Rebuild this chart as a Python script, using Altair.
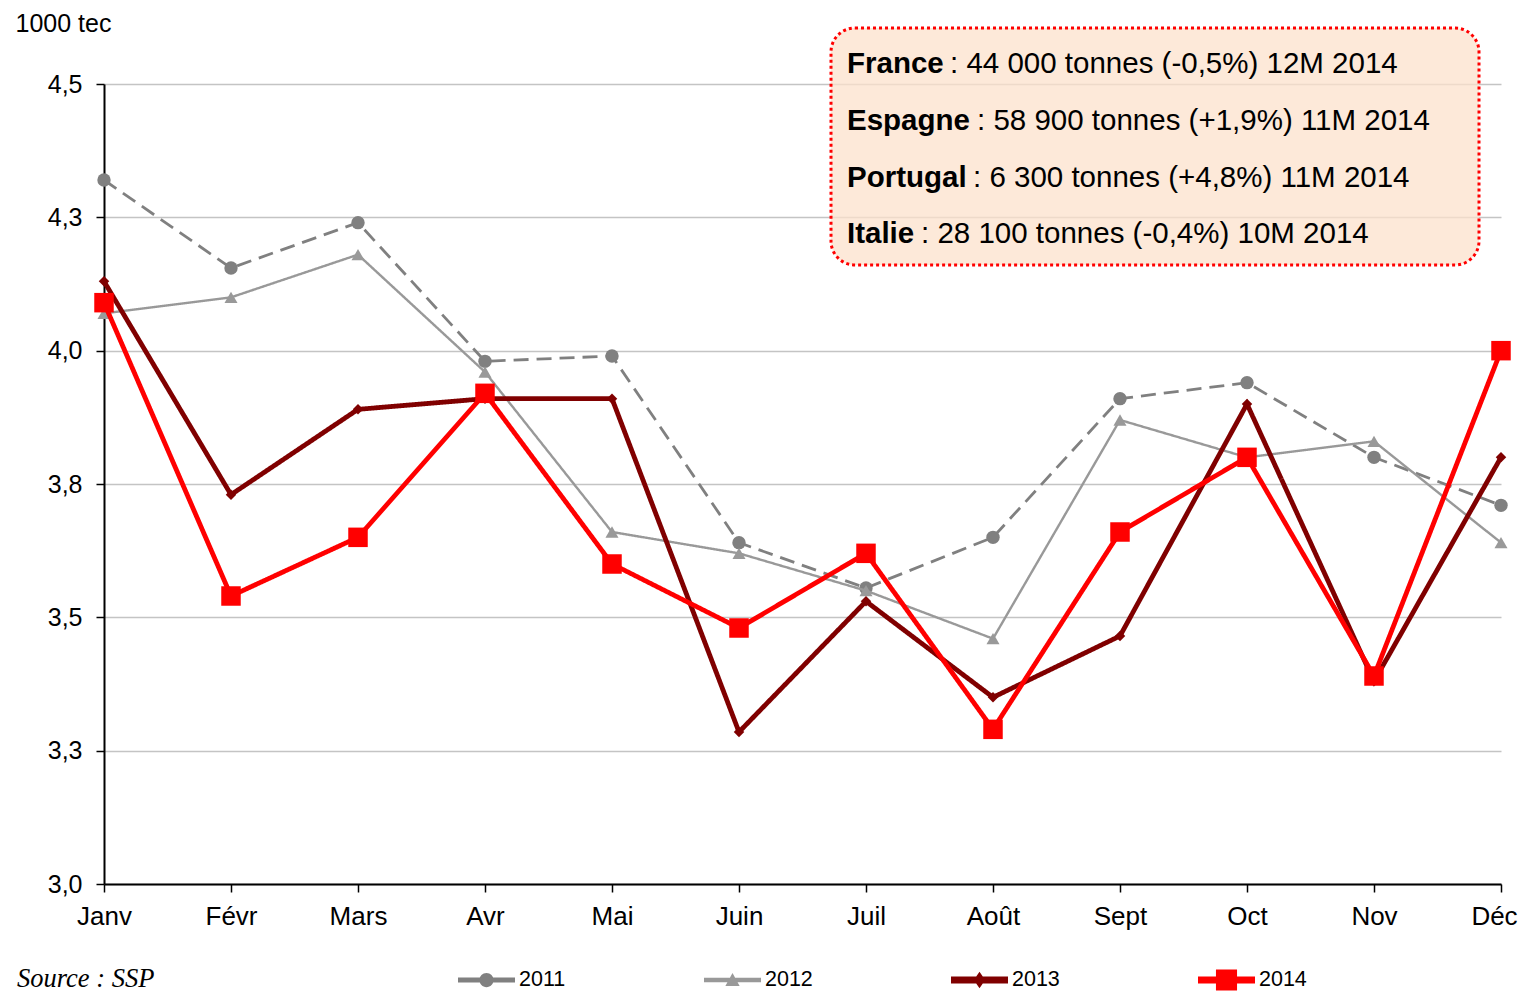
import altair as alt
import pandas as pd

months = ["Janv", "Févr", "Mars", "Avr", "Mai", "Juin", "Juil", "Août", "Sept", "Oct", "Nov", "Déc"]
years = ["2011", "2012", "2013", "2014"]
v2011 = [4.32, 4.155, 4.24, 3.98, 3.99, 3.64, 3.555, 3.65, 3.91, 3.94, 3.80, 3.71]
v2012 = [4.07, 4.10, 4.18, 3.96, 3.66, 3.62, 3.55, 3.46, 3.87, 3.80, 3.83, 3.64]
v2013 = [4.13, 3.73, 3.89, 3.91, 3.91, 3.285, 3.53, 3.35, 3.465, 3.90, 3.38, 3.80]
v2014 = [4.09, 3.54, 3.65, 3.92, 3.60, 3.48, 3.62, 3.29, 3.66, 3.80, 3.39, 4.00]
y_ticks = [3.0, 3.25, 3.5, 3.75, 4.0, 4.25, 4.5]

names = ["France", "Espagne", "Portugal", "Italie"]
details = [": 44 000 tonnes (-0,5%) 12M 2014",
           ": 58 900 tonnes (+1,9%) 11M 2014",
           ": 6 300 tonnes (+4,8%) 11M 2014",
           ": 28 100 tonnes (-0,4%) 10M 2014"]

FONT = "Liberation Sans"
series = {"2011": v2011, "2012": v2012, "2013": v2013, "2014": v2014}
colors = {"2011": "#808080", "2012": "#999999", "2013": "#800000", "2014": "#ff0000"}
widths = {"2011": 2.8, "2012": 2.4, "2013": 4.8, "2014": 4.8}
dashes = {"2011": [15, 8], "2012": [1, 0], "2013": [1, 0], "2014": [1, 0]}
shapes = {"2011": "circle", "2012": "triangle-up", "2013": "diamond", "2014": "square"}
sizes = {"2011": 180, "2012": 170, "2013": 110, "2014": 380}

x_enc = alt.X("month:O", sort=months, scale=alt.Scale(type="point", padding=0),
              axis=alt.Axis(title=None, labelFont=FONT, labelFontSize=26, labelColor="black",
                            labelAngle=0, domainColor="black", domainWidth=2, tickColor="black",
                            tickWidth=1.5, tickSize=8, labelPadding=11, grid=False,
                            labelOffset={"condition": {"test": "datum.value == 'Déc'", "value": -7},
                                         "value": 0}))
y_enc = alt.Y("value:Q", scale=alt.Scale(domain=[3.0, 4.5], nice=False, zero=False),
              axis=alt.Axis(values=y_ticks, labelExpr="replace(format(datum.value, '.1f'), '.', ',')",
                            labelFont=FONT, labelFontSize=25, labelColor="black", labelPadding=14,
                            domainColor="black", domainWidth=2, tickColor="black", tickWidth=1.5,
                            tickSize=8, grid=True, gridColor="#c4c4c4", gridWidth=1.5,
                            title="1000 tec", titleAngle=0, titleX=-89, titleY=-61,
                            titleAlign="left", titleBaseline="middle", titleFont=FONT,
                            titleFontSize=25, titleFontWeight="normal", titleColor="black"))

layers = []

# annotation box (behind lines)
one = pd.DataFrame({"k": [0]})
box = alt.Chart(one).mark_rect(
    fill="#fce2cc", fillOpacity=0.75, stroke="#ff0000", strokeWidth=3,
    strokeDash=[3, 3], cornerRadius=24
).encode(x=alt.value(727), x2=alt.value(1375), y=alt.value(-56), y2=alt.value(181))
layers.append(box)

for yr in years:
    df = pd.DataFrame({"month": months, "value": series[yr]})
    ln = alt.Chart(df).mark_line(color=colors[yr], strokeWidth=widths[yr],
                                 strokeDash=dashes[yr]).encode(x=x_enc, y=y_enc)
    pt = alt.Chart(df).mark_point(filled=True, opacity=1, color=colors[yr], shape=shapes[yr],
                                  size=sizes[yr]).encode(x=x_enc, y=y_enc)
    layers += [ln, pt]

# annotation text
row_y = [-20, 37, 94, 150]
detail_x = [846, 873, 869, 817]
for i in range(4):
    layers.append(alt.Chart(one).mark_text(
        text=names[i], font=FONT, fontSize=29.5, fontWeight="bold", align="left",
        baseline="middle", color="black").encode(x=alt.value(743), y=alt.value(row_y[i])))
    layers.append(alt.Chart(one).mark_text(
        text=details[i], font=FONT, fontSize=29.5, align="left",
        baseline="middle", color="black").encode(x=alt.value(detail_x[i]), y=alt.value(row_y[i])))

# source
layers.append(alt.Chart(one).mark_text(
    text="Source : SSP", font="Liberation Serif", fontStyle="italic", fontSize=26.5,
    align="left", baseline="alphabetic", color="black").encode(x=alt.value(-87), y=alt.value(903)))

# legend (line + marker symbols)
def line_rect(h):
    return f"M-1,-{h}H1V{h}H-1Z"

legend_paths = [
    line_rect(0.09) + "M0.25,0A0.25,0.25 0 1,1 -0.25,0A0.25,0.25 0 1,1 0.25,0Z",
    line_rect(0.075) + "M0,-0.25L0.25,0.21L-0.25,0.21Z",
    line_rect(0.12) + "M0,-0.29L0.2,0L0,0.29L-0.2,0Z",
    line_rect(0.12) + "M-0.37,-0.37H0.37V0.37H-0.37Z",
]
leg = alt.Legend(title=None, orient="none", legendX=354, legendY=867, direction="horizontal",
                 symbolSize=3249, symbolStrokeWidth=0, labelFont=FONT, labelFontSize=21.5,
                 labelColor="black", labelOffset=4, columnPadding=138, padding=0)
legend_df = pd.DataFrame({"year": years})
legend_layer = alt.Chart(legend_df).transform_filter("datum.year == 'none'").mark_point(
    filled=True, opacity=1).encode(
    shape=alt.Shape("year:N", scale=alt.Scale(domain=years, range=legend_paths), legend=leg),
    fill=alt.Fill("year:N", scale=alt.Scale(domain=years, range=[colors[y] for y in years]), legend=leg),
)
layers.append(legend_layer)

chart = alt.layer(*layers).properties(
    width=1397, height=800,
    padding={"left": 96, "top": 76, "right": 19, "bottom": 113},
    autosize=alt.AutoSizeParams(type="none"),
    background="white",
).configure_view(stroke=None)

chart.save("out.html", embed_options={"renderer": "svg", "actions": False})
